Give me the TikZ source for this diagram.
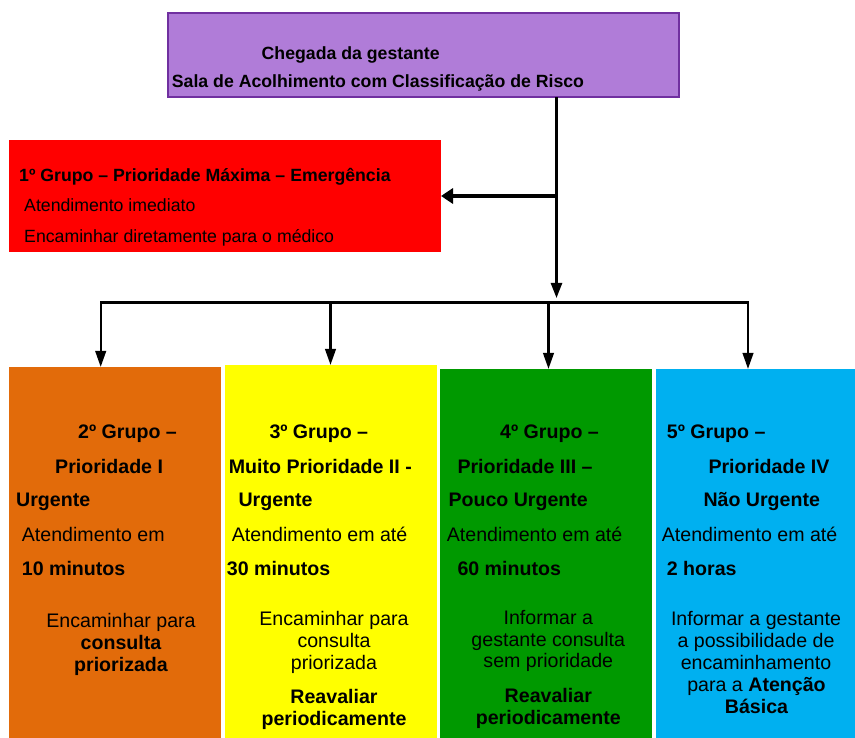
\documentclass[tikz,border=0pt]{standalone}
\usepackage{fontspec}
\setmainfont{Liberation Sans}
\usetikzlibrary{arrows.meta}
\definecolor{pfill}{HTML}{B07CD8}
\definecolor{pdraw}{HTML}{7030A0}
\definecolor{cred}{HTML}{FF0000}
\definecolor{corange}{HTML}{E26B0A}
\definecolor{cyellow}{HTML}{FFFF00}
\definecolor{cgreen}{HTML}{009900}
\definecolor{cblue}{HTML}{00B0F0}
\begin{document}
\begin{tikzpicture}[x=1pt,y=-1pt,
  bx/.style={rectangle, inner sep=0pt, outer sep=0pt},
  nA/.style={inner sep=0pt, font=\fontsize{17.7}{20}\selectfont},
  bA/.style={inner sep=0pt, font=\fontsize{17.7}{20}\selectfont\bfseries},
  nB/.style={inner sep=0pt, font=\fontsize{19.6}{22}\selectfont},
  bB/.style={inner sep=0pt, font=\fontsize{19.6}{22}\selectfont\bfseries},
  lw/.style={anchor=base west},
  ct/.style={anchor=base},
  conn/.style={line width=2.4pt, line join=miter},
  tipA/.style={-{Triangle[length=15pt,width=11pt]}},
  tipC/.style={{Triangle[length=16pt,width=10.5pt]}-{Triangle[length=16pt,width=10.5pt]}},
  tipD/.style={-{Triangle[length=16pt,width=10.5pt]}}
]
\useasboundingbox (0,0) rectangle (855,738);

% boxes
\node[bx, fill=pfill, draw=pdraw, line width=2pt, minimum width=511pt, minimum height=84pt] (top) at (423,55) {};
\node[bx, fill=cred, minimum width=432pt, minimum height=112pt] (red) at (225,196) {};
\node[bx, fill=corange, minimum width=212pt, minimum height=371pt] (org) at (115,552.5) {};
\node[bx, fill=cyellow, minimum width=212pt, minimum height=373pt] (yel) at (331,551.5) {};
\node[bx, fill=cgreen, minimum width=212pt, minimum height=369pt] (grn) at (546,553.5) {};
\node[bx, fill=cblue, minimum width=199pt, minimum height=369pt] (blu) at (755.5,553.5) {};

% top texts
\node[bA, lw] (t1) at (261.5,59.5) {Chegada da gestante};
\node[bA, lw] (t2) at (171.7,87.7) {Sala de Acolhimento com Classificação de Risco};

% red texts
\node[bA, lw] (r1) at (19,181.7) {1º Grupo – Prioridade Máxima – Emergência};
\node[nA, lw] (r2) at (24,211.7) {Atendimento imediato};
\node[nA, lw] (r3) at (24,242.5) {Encaminhar diretamente para o médico};

% orange texts
\node[bB, lw] (o1) at (78,438.3) {2º Grupo –};
\node[bB, lw] (o2) at (55,473.3) {Prioridade I};
\node[bB, lw] (o3) at (16,506) {Urgente};
\node[nB, lw] (o4) at (21.7,541.7) {Atendimento em};
\node[bB, lw] (o5) at (21.7,575) {10 minutos};
\node[nB, ct] (o6) at (121,627.5) {Encaminhar para};
\node[bB, ct] (o7) at (121,649.5) {consulta};
\node[bB, ct] (o8) at (121,671.5) {priorizada};

% yellow texts
\node[bB, lw] (y1) at (269.3,438.3) {3º Grupo –};
\node[bB, lw] (y2) at (228.7,473.3) {Muito Prioridade II -};
\node[bB, lw] (y3) at (238.3,506) {Urgente};
\node[nB, lw] (y4) at (231.7,541.7) {Atendimento em até};
\node[bB, lw] (y5) at (226.7,575) {30 minutos};
\node[nB, ct] (y6) at (334,625.7) {Encaminhar para};
\node[nB, ct] (y7) at (334,647.5) {consulta};
\node[nB, ct] (y8) at (334,669.3) {priorizada};
\node[bB, ct] (y9) at (334,703.3) {Reavaliar};
\node[bB, ct] (y10) at (334,725.5) {periodicamente};

% green texts
\node[bB, lw] (g1) at (500,438.3) {4º Grupo –};
\node[bB, lw] (g2) at (457.3,473.3) {Prioridade III –};
\node[bB, lw] (g3) at (448.3,506) {Pouco Urgente};
\node[nB, lw] (g4) at (446.7,541.7) {Atendimento em até};
\node[bB, lw] (g5) at (457.3,575) {60 minutos};
\node[nB, ct] (g6) at (548.3,624.3) {Informar a};
\node[nB, ct] (g7) at (548.3,646) {gestante consulta};
\node[nB, ct] (g8) at (548.3,667.5) {sem prioridade};
\node[bB, ct] (g9) at (548.3,702.3) {Reavaliar};
\node[bB, ct] (g10) at (548.3,724.3) {periodicamente};

% blue texts
\node[bB, lw] (u1) at (666.7,438.3) {5º Grupo –};
\node[bB, lw] (u2) at (708.3,473.3) {Prioridade IV};
\node[bB, lw] (u3) at (703.3,506) {Não Urgente};
\node[nB, lw] (u4) at (661.7,541.7) {Atendimento em até};
\node[bB, lw] (u5) at (666.7,575) {2 horas};
\node[nB, ct] (u6) at (756,625.7) {Informar a gestante};
\node[nB, ct] (u7) at (756,647.5) {a possibilidade de};
\node[nB, ct] (u8) at (756,669.3) {encaminhamento};
\node[nB, ct] (u9) at (756.5,691.5) {para a \textbf{Atenção}};
\node[bB, ct] (u10) at (756.5,713.3) {Básica};

% connectors
\coordinate (jr) at (556.5,196);
\coordinate (bus) at (556.5,302.5);
\coordinate (b1) at (100.7,302.5);
\coordinate (b2) at (330.5,302.5);
\coordinate (b3) at (548.5,302.5);
\coordinate (b4) at (748,302.5);

\draw[conn, tipA, shorten >=4.5pt] (top.south -| bus) -- (bus);
\draw[line width=4pt, -{Triangle[length=12pt,width=15pt]}] (jr) -- (jr -| red.east);
\draw[conn, tipC] (b1 |- org.north) -- (b1) -- (b4) -- (b4 |- blu.north);
\draw[conn, tipD] (b2) -- (b2 |- yel.north);
\draw[conn, tipD] (b3) -- (b3 |- grn.north);
\end{tikzpicture}
\end{document}
